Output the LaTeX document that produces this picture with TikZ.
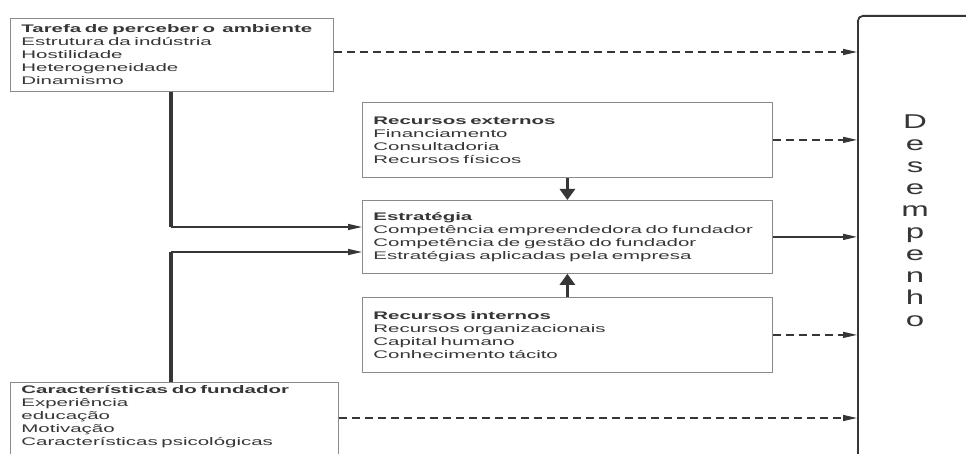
\documentclass[tikz,border=0pt]{standalone}
\usepackage{fontspec}
\setmainfont{Liberation Sans}
\newfontfamily\wfont[FakeStretch=1.86]{Liberation Sans}
\newfontfamily\dfont[FakeStretch=1.65]{Liberation Sans}
\usetikzlibrary{arrows.meta,calc}
\definecolor{ink}{HTML}{363636}
\definecolor{frame}{HTML}{8A8A8A}
\begin{document}
\begin{tikzpicture}[x=1pt,y=-1pt,
  box/.style={draw=frame, line width=0.8pt, anchor=north west, align=left,
    inner xsep=11pt, inner ysep=0pt, text=ink,
    font=\wfont\fontsize{11}{13}\selectfont},
  thickln/.style={draw=ink, line width=3.5pt},
  thinarr/.style={draw=ink, line width=1.4pt, -{Triangle[length=14pt,width=6pt]}},
  dasharr/.style={draw=ink, line width=1.3pt, dash pattern=on 8pt off 5pt,
    -{Triangle[length=14pt,width=6pt]}},
  vertarr/.style={draw=ink, line width=3pt, -{Triangle[length=11pt,width=15pt]}}]
\useasboundingbox (0,0) rectangle (966,454);
\clip (0,0) rectangle (966,454);
\fill[white] (0,0) rectangle (966,454);

\node[box, minimum width=323pt, minimum height=73pt, text width=301pt] (env) at (10,18)
  {\mbox{\textbf{Tarefa de perceber o~ ambiente}}\\Estrutura da indústria\\Hostilidade\\Heterogeneidade\\Dinamismo};
\node[box, minimum width=410pt, minimum height=75pt, text width=388pt] (ext) at (362,102)
  {\textbf{Recursos externos}\\Financiamento\\Consultadoria\\Recursos físicos};
\node[box, minimum width=410pt, minimum height=73pt, text width=388pt] (strat) at (362,200)
  {\textbf{Estratégia}\\\mbox{Competência empreendedora do fundador}\\Competência de gestão do fundador\\Estratégias aplicadas pela empresa};
\node[box, minimum width=410pt, minimum height=75pt, text width=388pt] (int) at (362,297)
  {\textbf{Recursos internos}\\Recursos organizacionais\\Capital humano\\Conhecimento tácito};
\node[box, minimum width=328pt, text width=306pt, inner ysep=3pt] (fund) at (10,382)
  {\textbf{Características do fundador}\\Experiência\\educação\\Motivação\\\mbox{Características psicológicas}\\[20pt]\mbox{}};

\node[draw=ink, line width=1.8pt, rounded corners=5pt, anchor=north west,
  minimum width=150pt, minimum height=480pt, inner sep=0pt] (perf) at (857,15) {};
\node[font=\dfont\fontsize{20}{22}\selectfont, align=center, anchor=north,
  inner sep=0pt, text=ink] (perflabel) at (915,115) {D\\e\\s\\e\\m\\p\\e\\n\\h\\o};

\coordinate (c1) at (171,227);
\coordinate (c2) at (171,252);
\coordinate (y1) at (0,52);
\coordinate (y5) at (0,418);

\draw[thickln] (env.south -| c1) -- (c1);
\draw[thinarr] (c1) -- (strat.west |- c1);
\draw[thickln] (fund.north -| c2) -- (c2);
\draw[thinarr] (c2) -- (strat.west |- c2);

\draw[vertarr] (ext.south) -- (strat.north);
\draw[vertarr] (int.north) -- (strat.south);

\draw[dasharr] (env.east |- y1) -- (perf.west |- y1);
\draw[dasharr] (ext.east) -- (perf.west |- ext.east);
\draw[thinarr] (strat.east) -- (perf.west |- strat.east);
\draw[dasharr] (int.east) -- (perf.west |- int.east);
\draw[dasharr] (fund.east |- y5) -- (perf.west |- y5);
\end{tikzpicture}
\end{document}
